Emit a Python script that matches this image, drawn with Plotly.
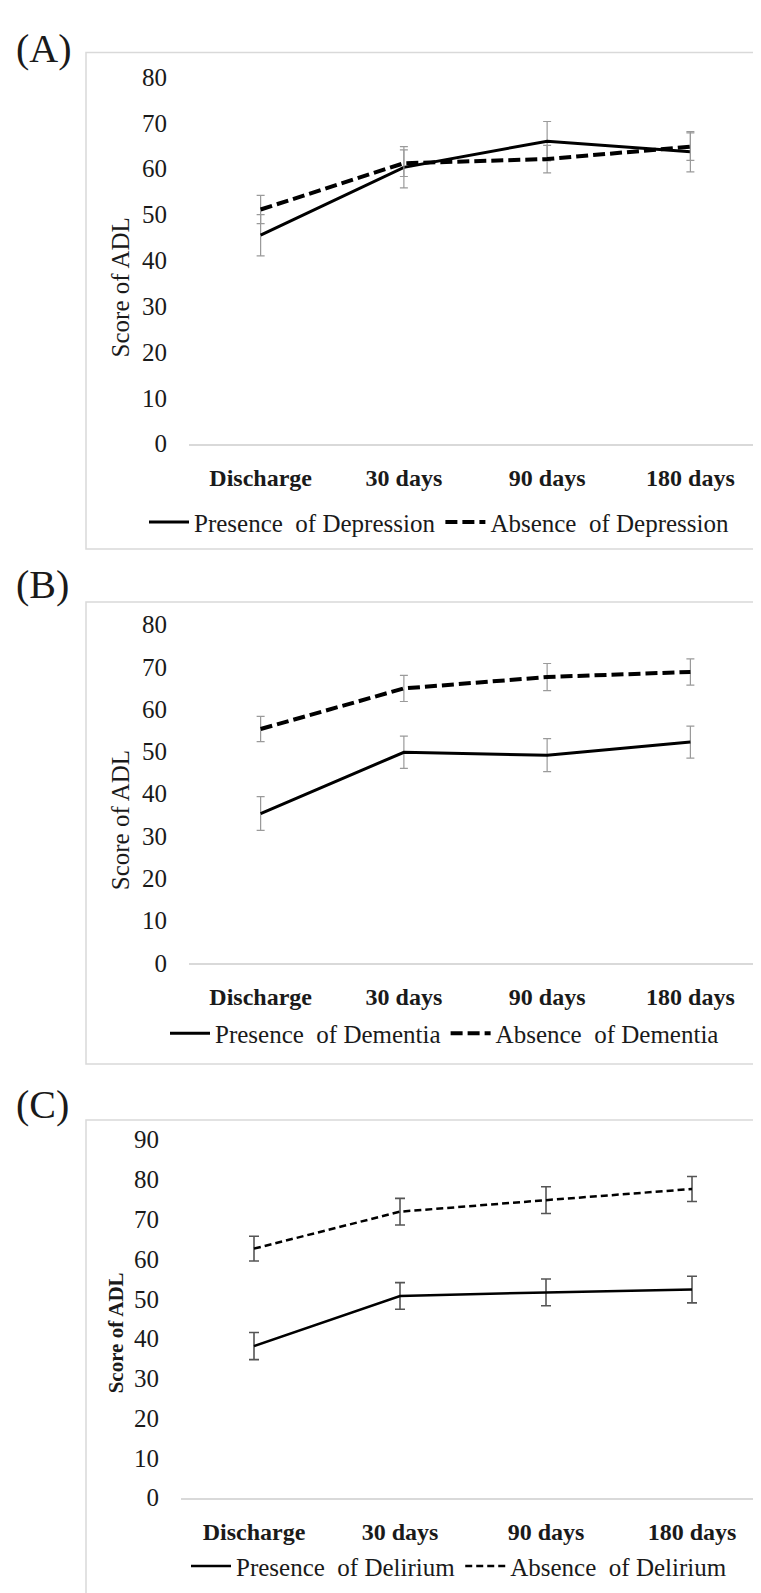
import plotly.graph_objects as go

W, H = 761, 1593

# ---------------- data ----------------
categories = ["Discharge", "30 days", "90 days", "180 days"]

a_presence = [45.5, 60.3, 66.0, 63.7]
a_presence_err = [4.5, 4.5, 4.3, 4.4]
a_absence = [51.1, 61.2, 62.1, 64.8]
a_absence_err = [3.1, 2.9, 3.0, 3.0]

b_presence = [35.3, 49.8, 49.1, 52.2]
b_presence_err = [4.0, 3.8, 3.9, 3.8]
b_absence = [55.3, 64.9, 67.6, 68.8]
b_absence_err = [3.0, 3.1, 3.2, 3.1]

c_presence = [38.1, 50.7, 51.6, 52.3]
c_presence_err = [3.4, 3.35, 3.35, 3.35]
c_absence = [62.6, 71.9, 74.8, 77.6]
c_absence_err = [3.1, 3.35, 3.35, 3.15]

panel_labels = ["(A)", "(B)", "(C)"]
legend_names = [
    ("Presence\u00a0 of Depression", "Absence\u00a0 of Depression"),
    ("Presence\u00a0 of Dementia", "Absence\u00a0 of Dementia"),
    ("Presence\u00a0 of Delirium", "Absence\u00a0 of Delirium"),
]
y_title = "Score of ADL"

# ---------------- helpers ----------------
def px_x(x):
    return x / W

def px_y(y):
    return 1 - y / H

SERIF = "Liberation Serif"
TXT = "#1a1a1a"

fig = go.Figure()

panels = [
    dict(pres=a_presence, pres_err=a_presence_err, abs_=a_absence, abs_err=a_absence_err,
         xdom=(181, 754), ydom=(430, 57), yr=80, box=(32, 537), lab_y=28,
         ttl_y=271, ttl_x=112, leg_y=510, leg_x=136,
         lw=(3, 4), dash="12px,5px", ecol="#9a9a9a", ew=1.2, ecap=4, tbold=False, tsize=25),
    dict(pres=b_presence, pres_err=b_presence_err, abs_=b_absence, abs_err=b_absence_err,
         xdom=(181, 754), ydom=(958, 614), yr=80, box=(591, 1061), lab_y=573,
         ttl_y=813, ttl_x=112, leg_y=1030, leg_x=157,
         lw=(3, 4), dash="12px,5px", ecol="#9a9a9a", ew=1.2, ecap=4, tbold=False, tsize=25),
    dict(pres=c_presence, pres_err=c_presence_err, abs_=c_absence, abs_err=c_absence_err,
         xdom=(173, 757), ydom=(1502, 1138), yr=90, box=(1118, 1600), lab_y=1102,
         ttl_y=1335, ttl_x=108, leg_y=1572, leg_x=178,
         lw=(2.5, 2.5), dash="7px,4px", ecol="#555555", ew=1.6, ecap=5, tbold=True, tsize=21),
]

layout_axes = {}
shapes = []
annotations = []
legends = {}

for i, p in enumerate(panels):
    n = i + 1
    xa = "x" if n == 1 else f"x{n}"
    ya = "y" if n == 1 else f"y{n}"
    lg = "legend" if n == 1 else f"legend{n}"
    pres_name, abs_name = legend_names[i]

    fig.add_trace(go.Scatter(
        x=categories, y=p["pres"], mode="lines", name=pres_name,
        line=dict(color="black", width=p["lw"][0]),
        error_y=dict(type="data", array=p["pres_err"], color=p["ecol"],
                     thickness=p["ew"], width=p["ecap"]),
        xaxis=xa, yaxis=ya, legend=lg,
    ))
    fig.add_trace(go.Scatter(
        x=categories, y=p["abs_"], mode="lines", name=abs_name,
        line=dict(color="black", width=p["lw"][1], dash=p["dash"]),
        error_y=dict(type="data", array=p["abs_err"], color=p["ecol"],
                     thickness=p["ew"], width=p["ecap"]),
        xaxis=xa, yaxis=ya, legend=lg,
    ))

    xkey = "xaxis" if n == 1 else f"xaxis{n}"
    ykey = "yaxis" if n == 1 else f"yaxis{n}"
    layout_axes[xkey] = dict(
        domain=[px_x(p["xdom"][0]), px_x(p["xdom"][1])],
        anchor=ya, type="category", range=[-0.5, 3.5],
        showgrid=False, zeroline=False, showline=True,
        linecolor="#d9d9d9", linewidth=1.5, ticks="",
        tickfont=dict(family=SERIF, size=24, color=TXT, weight="bold"),
        ticklabelstandoff=12, fixedrange=True,
    )
    layout_axes[ykey] = dict(
        domain=[px_y(p["ydom"][0]), px_y(p["ydom"][1])],
        anchor=xa, range=[0, p["yr"]], dtick=10,
        showgrid=False, zeroline=False, showline=False, ticks="",
        tickfont=dict(family=SERIF, size=25, color=TXT),
        ticklabelstandoff=21, fixedrange=True,
    )

    shapes.append(dict(type="rect", xref="paper", yref="paper",
                       x0=px_x(78), x1=px_x(770), y0=px_y(p["box"][1]), y1=px_y(p["box"][0]),
                       line=dict(color="#d9d9d9", width=1.5), fillcolor="rgba(0,0,0,0)",
                       layer="below"))

    annotations.append(dict(text=panel_labels[i], xref="paper", yref="paper",
                            x=px_x(6), y=px_y(p["lab_y"]), xanchor="left", yanchor="middle",
                            showarrow=False, font=dict(family=SERIF, size=40, color=TXT)))
    annotations.append(dict(text=y_title, xref="paper", yref="paper",
                            x=px_x(p["ttl_x"]), y=px_y(p["ttl_y"]), xanchor="center", yanchor="middle",
                            textangle=-90, showarrow=False,
                            font=dict(family=SERIF, size=p["tsize"], color=TXT,
                                      weight="bold" if p["tbold"] else "normal")))

    legends[lg] = dict(
        orientation="h", x=px_x(p["leg_x"]), y=px_y(p["leg_y"]),
        xanchor="left", yanchor="middle", bgcolor="rgba(0,0,0,0)",
        font=dict(family=SERIF, size=25, color=TXT), itemwidth=40,
        tracegroupgap=0,
    )

fig.update_layout(
    width=W, height=H, margin=dict(l=0, r=0, t=0, b=0),
    paper_bgcolor="white", plot_bgcolor="white",
    showlegend=True, shapes=shapes, annotations=annotations,
    **layout_axes, **legends,
)

fig.write_html("out.html")
